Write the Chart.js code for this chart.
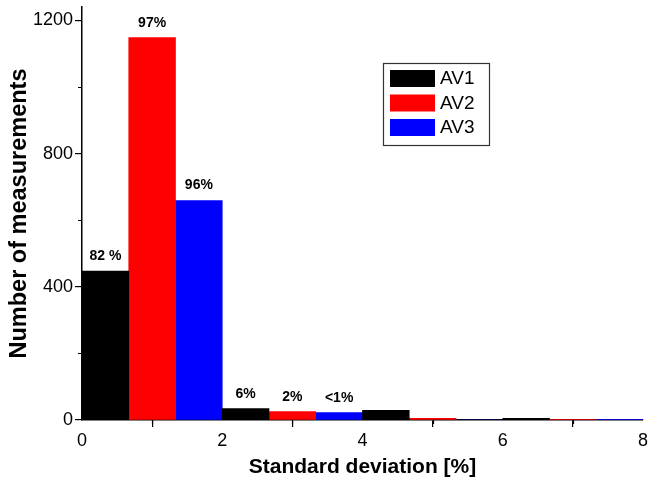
<!DOCTYPE html>
<html><head><meta charset="utf-8">
<script src="https://cdn.jsdelivr.net/npm/chart.js@4/dist/chart.umd.min.js"></script>
<style>html,body{margin:0;padding:0;background:#fff}</style>
</head><body>
<canvas id="c" width="648" height="481"></canvas>
<script>
// ---- data ----
const binLabels = ['0-0.67','0.67-1.33','1.33-2','2-2.67','2.67-3.33','3.33-4','4-4.67','4.67-5.33','5.33-6','6-6.67','6.67-7.33','7.33-8'];
const seriesNames = ['AV1','AV2','AV3'];
const seriesColors = ['#000000','#ff0000','#0000ff'];
const av1Values = [447, 34, 29, 5];
const av2Values = [1148, 25, 5, 2];
const av3Values = [659, 22, 0, 2];
const av1Labels = ['82 %', '6%', '', ''];
const av2Labels = ['97%', '2%', '', ''];
const av3Labels = ['96%', '<1%', '', ''];
const xMajorTicks = [0, 2, 4, 6, 8];
const xMinorTicks = [1, 3, 5, 7];
const yMajorTicks = [0, 400, 800, 1200];
const yMinorTicks = [200, 600, 1000];
const xTitle = 'Standard deviation [%]';
const yTitle = 'Number of measurements';

const FONT = "'Liberation Sans', Arial, Helvetica, sans-serif";
const seriesValues = [av1Values, av2Values, av3Values];
const seriesLabels = [av1Labels, av2Labels, av3Labels];

// each series occupies every third bin (slot 3*k + seriesIndex)
function spread(vals, s) {
  return binLabels.map((_, i) => (i % 3 === s ? vals[(i - s) / 3] : null));
}
function spreadText(vals, s) {
  return binLabels.map((_, i) => (i % 3 === s ? vals[(i - s) / 3] : ''));
}

const datasets = seriesNames.map((name, s) => ({
  label: name,
  data: spread(seriesValues[s], s),
  pctLabels: spreadText(seriesLabels[s], s),
  backgroundColor: seriesColors[s],
  borderWidth: 0,
  grouped: false,
  barPercentage: 1,
  categoryPercentage: 1,
  xAxisID: 'x',
  yAxisID: 'y'
}));

const extras = {
  id: 'extras',
  afterDatasetsDraw(chart) {
    const ctx = chart.ctx;
    ctx.save();
    // percentage labels
    ctx.font = 'bold 14px ' + FONT;
    ctx.fillStyle = '#000';
    ctx.textAlign = 'center';
    ctx.textBaseline = 'bottom';
    chart.data.datasets.forEach((ds, di) => {
      const meta = chart.getDatasetMeta(di);
      meta.data.forEach((bar, i) => {
        const t = ds.pctLabels[i];
        if (t) ctx.fillText(t, bar.x, bar.y - 8);
      });
    });
    // minor ticks
    const xs = chart.scales.xv, ys = chart.scales.y, ca = chart.chartArea;
    ctx.strokeStyle = '#000';
    ctx.lineWidth = 1.2;
    ctx.beginPath();
    xMinorTicks.forEach(v => {
      const px = Math.round(xs.getPixelForValue(v)) + 0.5;
      ctx.moveTo(px, ca.bottom); ctx.lineTo(px, ca.bottom + 4);
    });
    yMinorTicks.forEach(v => {
      const py = Math.round(ys.getPixelForValue(v)) + 0.5;
      ctx.moveTo(ca.left, py); ctx.lineTo(ca.left - 4, py);
    });
    ctx.stroke();
    // legend
    const lx = ca.left + 301, ly = 63, lw = 106, lh = 82;
    ctx.strokeStyle = '#333';
    ctx.lineWidth = 1.2;
    ctx.strokeRect(lx + 0.5, ly + 0.5, lw, lh);
    ctx.font = '19px ' + FONT;
    ctx.textAlign = 'left';
    ctx.textBaseline = 'middle';
    chart.data.datasets.forEach((ds, di) => {
      const ry = ly + 7 + di * 24.5;
      ctx.fillStyle = ds.backgroundColor;
      ctx.fillRect(lx + 7, ry, 45, 17);
      ctx.fillStyle = '#000';
      ctx.fillText(ds.label, lx + 57, ry + 9);
    });
    ctx.restore();
  }
};

new Chart(document.getElementById('c'), {
  type: 'bar',
  data: { labels: binLabels, datasets },
  options: {
    responsive: false,
    animation: false,
    devicePixelRatio: 1,
    layout: { padding: { top: 7, right: 5, bottom: 0, left: 0 } },
    plugins: { legend: { display: false }, tooltip: { enabled: false } },
    scales: {
      x: { type: 'category', display: false, offset: true },
      xv: {
        type: 'linear', position: 'bottom', axis: 'x', min: 0, max: 8, offset: false,
        afterBuildTicks: s => { s.ticks = xMajorTicks.map(v => ({ value: v })); },
        afterFit: s => { s.height = 61; s.paddingLeft = 0; s.paddingRight = 0; },
        grid: { display: true, drawOnChartArea: false, drawTicks: true, tickLength: 7, tickColor: '#000', lineWidth: 1.2 },
        border: { display: true, color: '#000', width: 1.5 },
        ticks: { color: '#000', font: { family: FONT, size: 18 }, padding: 3, maxRotation: 0, callback: v => String(v) },
        title: { display: true, text: xTitle, color: '#000', font: { family: FONT, size: 21, weight: 'bold' }, padding: { top: 0, bottom: 1 } }
      },
      y: {
        type: 'linear', position: 'left', min: 0, max: 1240,
        afterBuildTicks: s => { s.ticks = yMajorTicks.map(v => ({ value: v })); },
        afterFit: s => { s.width = 82; s.paddingTop = 0; s.paddingBottom = 0; },
        grid: { display: true, drawOnChartArea: false, drawTicks: true, tickLength: 7, tickColor: '#000', lineWidth: 1.2 },
        border: { display: true, color: '#000', width: 1.5 },
        ticks: { color: '#000', font: { family: FONT, size: 18 }, padding: 2, callback: v => String(v) },
        title: { display: true, text: yTitle, color: '#000', font: { family: FONT, size: 23.5, weight: 'bold' }, padding: { top: 5, bottom: 0 } }
      }
    }
  },
  plugins: [extras]
});
</script>
</body></html>
